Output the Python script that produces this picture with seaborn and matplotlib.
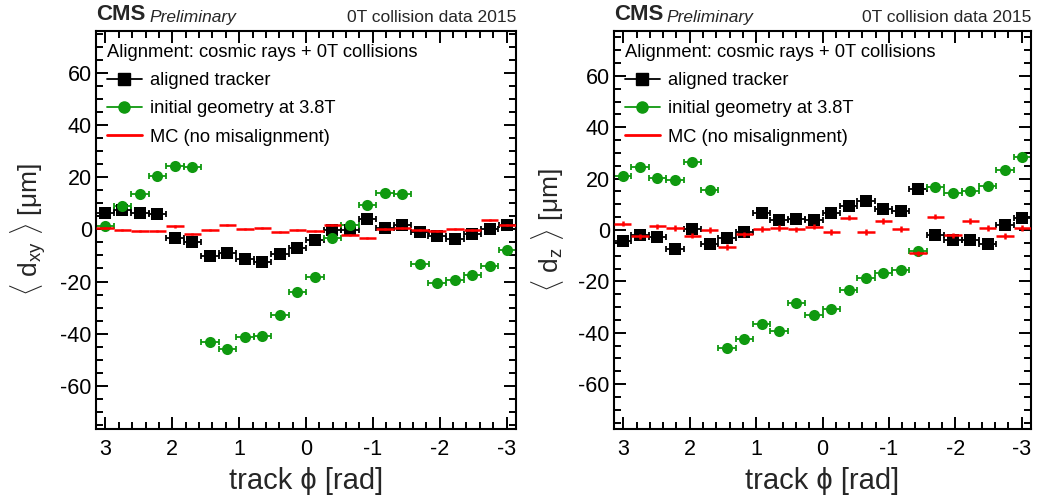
import numpy as np
import pandas as pd
import matplotlib
matplotlib.use("Agg")
import matplotlib.pyplot as plt
import seaborn as sns
from matplotlib.lines import Line2D
from matplotlib.ticker import MultipleLocator

# ---------------- data ----------------
n_bins = 24
phi_edges = np.linspace(np.pi, -np.pi, n_bins + 1)
phi = 0.5 * (phi_edges[:-1] + phi_edges[1:])
half_bin = np.pi / n_bins

dxy_aligned = [6.2, 7.5, 6.2, 5.8, -3.4, -4.9, -10.4, -9.1, -11.3, -12.6, -9.5, -7.1,
               -4.0, -0.4, -0.3, 4.0, 0.5, 1.7, -1.1, -2.5, -3.8, -1.9, 0.1, 1.7]
dxy_initial = [1.3, 9.0, 13.7, 20.5, 24.1, 23.8, -43.2, -45.7, -41.1, -40.8, -32.9, -23.9,
               -18.1, -3.4, 1.7, 9.5, 14.1, 13.6, -13.3, -20.6, -19.3, -17.4, -14.0, -8.1]
dxy_mc = [0.6, -0.4, -0.8, -0.6, 1.1, -1.9, -0.3, 1.5, 0.2, 0.4, -1.1, -0.3,
          -0.7, 1.7, -2.2, -3.4, 0.3, 0.6, -0.3, -0.7, 0.2, -0.3, 3.6, 1.8]
dxy_mc_err = [0.4] * n_bins

dz_aligned = [-4.1, -1.8, -2.8, -7.5, 0.2, -5.6, -3.1, -0.8, 6.8, 4.0, 4.4, 3.8,
              6.8, 9.4, 11.2, 8.1, 7.3, 16.1, -2.1, -4.0, -4.0, -5.4, 1.8, 4.7]
dz_initial = [21.2, 24.7, 20.2, 19.4, 26.3, 15.4, -45.9, -42.5, -36.5, -39.5, -28.4, -33.1,
              -30.7, -23.5, -18.8, -16.6, -15.5, -8.3, 16.9, 14.4, 15.3, 17.0, 23.5, 28.3]
dz_mc = [2.5, -2.5, 1.4, 0.8, -2.2, -0.1, -6.6, -1.7, 0.3, 0.7, 0.2, 1.3,
         -0.9, 4.8, -0.9, 3.4, 0.4, -9.1, 5.2, -2.1, 3.5, 0.8, -2.3, 0.8]
dz_mc_err = [1.1] * n_bins

data_err = 0.4

x_ticks = [3, 2, 1, 0, -1, -2, -3]
y_ticks = [-60, -40, -20, 0, 20, 40, 60]

# ---------------- style ----------------
sns.set_theme(style="ticks")
plt.rcParams.update({
    "axes.unicode_minus": False,
    "mathtext.fontset": "custom",
    "mathtext.rm": "Liberation Sans",
    "mathtext.it": "Liberation Sans:italic",
    "mathtext.bf": "Liberation Sans:bold",
    "axes.linewidth": 1.5,
    "axes.edgecolor": "black",
})
plt.rcParams["font.family"] = ["Liberation Sans", "DejaVu Sans"]

GREEN = "#0f990f"
RED = "#ff0000"

fig = plt.figure(figsize=(10.38, 4.97), dpi=100)
W, H = 1038, 497
ax1 = fig.add_axes([96 / W, 1 - 429 / H, 420 / W, 398 / H])
ax2 = fig.add_axes([614 / W, 1 - 429 / H, 417 / W, 398 / H])


def panel(ax, aligned, initial, mc, mc_err, ylabel, ylim):
    df = pd.DataFrame({"phi": phi, "aligned": aligned, "initial": initial, "mc": mc})
    ax.errorbar(df["phi"], df["aligned"], xerr=half_bin, yerr=data_err, fmt="none",
                ecolor="black", elinewidth=1.3, capsize=2, capthick=1.3, zorder=2)
    ax.errorbar(df["phi"], df["initial"], xerr=half_bin, yerr=data_err, fmt="none",
                ecolor=GREEN, elinewidth=1.3, capsize=2, capthick=1.3, zorder=2)
    sns.scatterplot(data=df, x="phi", y="aligned", marker="s", color="black",
                    edgecolor="black", s=72, linewidth=0, ax=ax, legend=False, zorder=3)
    sns.scatterplot(data=df, x="phi", y="initial", marker="o", color=GREEN,
                    edgecolor=GREEN, s=64, linewidth=0, ax=ax, legend=False, zorder=3)
    ax.errorbar(df["phi"], df["mc"], xerr=half_bin, yerr=mc_err, fmt="none",
                ecolor=RED, elinewidth=1.8, capsize=0, zorder=4)

    ax.set_xlim(np.pi, -np.pi)
    ax.set_ylim(*ylim)
    ax.set_xticks(x_ticks)
    ax.set_xticklabels([str(t) for t in x_ticks])
    ax.set_yticks(y_ticks)
    ax.set_yticklabels([str(t) for t in y_ticks])
    ax.xaxis.set_minor_locator(MultipleLocator(0.2))
    ax.yaxis.set_minor_locator(MultipleLocator(5))
    ax.tick_params(which="both", direction="in", top=True, right=True,
                   color="black", width=1.4, labelcolor="black")
    ax.tick_params(which="major", length=8.5)
    ax.tick_params(which="minor", length=5)
    ax.tick_params(axis="x", which="major", labelsize=15.5, pad=7)
    ax.tick_params(axis="y", which="major", labelsize=15.5, pad=3)
    for s in ax.spines.values():
        s.set_visible(True)
        s.set_linewidth(1.5)
        s.set_color("black")

    ax.set_xlabel("track ϕ [rad]", fontsize=21, labelpad=5,
                  fontfamily=["Liberation Sans", "DejaVu Sans"])
    ax.set_ylabel(ylabel, fontsize=19, labelpad=9)

    ax.text(0.0, 1.015, "CMS", transform=ax.transAxes, fontsize=16,
            fontweight="bold", ha="left", va="bottom")
    ax.text(0.127, 1.015, "Preliminary", transform=ax.transAxes, fontsize=12.5,
            fontstyle="italic", ha="left", va="bottom")
    ax.text(1.0, 1.015, "0T collision data 2015", transform=ax.transAxes,
            fontsize=12.6, ha="right", va="bottom")

    handles = [
        Line2D([0], [0], color="black", lw=1.3, marker="s", markersize=8.5),
        Line2D([0], [0], color=GREEN, lw=1.3, marker="o", markersize=8),
        Line2D([0], [0], color=RED, lw=2),
    ]
    labels = ["aligned tracker", "initial geometry at 3.8T", "MC (no misalignment)"]
    leg = ax.legend(handles, labels, title="Alignment: cosmic rays + 0T collisions",
                    loc="upper left", bbox_to_anchor=(0.026, 0.968), frameon=False,
                    fontsize=13.2, title_fontsize=13.2, alignment="left",
                    handlelength=1.9, handletextpad=0.45, labelspacing=0.62,
                    borderaxespad=0, borderpad=0)
    leg.get_title().set_color("black")
    for t in leg.get_texts():
        t.set_color("black")


panel(ax1, dxy_aligned, dxy_initial, dxy_mc, dxy_mc_err,
      r"$\langle$ d$_{\mathregular{xy}}$ $\rangle$ [μm]", (-76.5, 76))
panel(ax2, dz_aligned, dz_initial, dz_mc, dz_mc_err,
      r"$\langle$ d$_{\mathregular{z}}$ $\rangle$ [μm]", (-77.5, 77.5))

fig.savefig("out.png", dpi=100, facecolor="white")
